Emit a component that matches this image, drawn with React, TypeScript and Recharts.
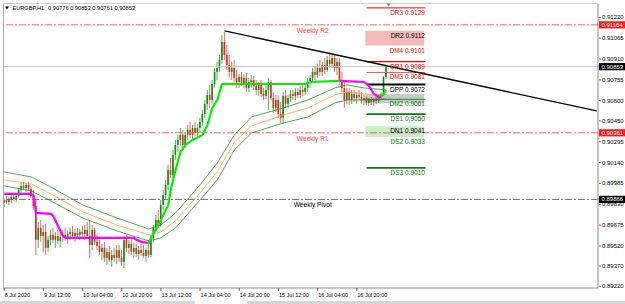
import React from 'react';
import { ComposedChart, Bar, Line, XAxis, YAxis, ReferenceLine, ReferenceArea, ReferenceDot } from 'recharts';

const FONT = '"Liberation Sans", Arial, "DejaVu Sans", sans-serif';
const SLOTS = 243; // bar slots across the chart width (last ones empty: chart shift)

// x axis: bar index of each time label
const xTickIndex = [0, 16, 32, 48, 64, 80, 96, 112, 128, 144];
const xTickLabels = ['8 Jul 2020', '9 Jul 12:00', '10 Jul 04:00', '10 Jul 20:00', '13 Jul 12:00', '14 Jul 04:00', '14 Jul 20:00', '15 Jul 12:00', '16 Jul 04:00', '16 Jul 20:00'];
const yTicks = [0.9122, 0.91065, 0.9091, 0.90755, 0.906, 0.9045, 0.90295, 0.9014, 0.89985, 0.8983, 0.89675, 0.8952, 0.8937, 0.8922];
const yDomain: [number, number] = [0.89207, 0.91319];

// EURGBP H1 candles, [open, high, low, close] in points (1 point = 0.00001)
const candles: number[][] = [
  [89840, 89877, 89810, 89862], [89862, 89892, 89832, 89847], [89847, 89884, 89825, 89869], [89869, 89907, 89840, 89884],
  [89884, 89914, 89855, 89869], [89869, 89907, 89847, 89892], [89892, 89951, 89877, 89936], [89936, 89988, 89914, 89966],
  [89966, 89996, 89936, 89951], [89951, 89988, 89921, 89974], [89974, 89996, 89929, 89944], [89944, 89966, 89877, 89892],
  [89892, 89936, 89788, 89817], [89817, 89862, 89453, 89565], [89565, 89698, 89505, 89654], [89654, 89713, 89550, 89594],
  [89594, 89676, 89475, 89624], [89624, 89684, 89453, 89505], [89505, 89594, 89475, 89565], [89565, 89639, 89527, 89602],
  [89602, 89654, 89542, 89565], [89565, 89624, 89505, 89594], [89594, 89639, 89535, 89557], [89557, 89617, 89513, 89587],
  [89587, 89639, 89550, 89602], [89602, 89654, 89557, 89580], [89580, 89632, 89535, 89609], [89609, 89654, 89565, 89624],
  [89624, 89669, 89580, 89594], [89594, 89646, 89550, 89617], [89617, 89654, 89572, 89602], [89602, 89646, 89565, 89624],
  [89624, 89669, 89580, 89609], [89609, 89676, 89565, 89639], [89639, 89698, 89580, 89594], [89594, 89713, 89431, 89527],
  [89527, 89676, 89490, 89639], [89639, 89654, 89527, 89550], [89550, 89602, 89490, 89520], [89520, 89565, 89453, 89475],
  [89475, 89535, 89416, 89505], [89505, 89550, 89401, 89431], [89431, 89505, 89379, 89475], [89475, 89520, 89401, 89416],
  [89416, 89490, 89364, 89453], [89453, 89505, 89401, 89431], [89431, 89527, 89386, 89490], [89490, 89527, 89401, 89431],
  [89431, 89490, 89371, 89401], [89401, 89594, 89356, 89565], [89565, 89602, 89475, 89505], [89505, 89565, 89460, 89535],
  [89535, 89565, 89453, 89475], [89475, 89542, 89431, 89505], [89505, 89535, 89438, 89460], [89460, 89520, 89416, 89490],
  [89490, 89535, 89446, 89468], [89468, 89527, 89431, 89446], [89446, 89505, 89401, 89490], [89490, 89565, 89431, 89453],
  [89453, 89602, 89438, 89580], [89580, 89676, 89550, 89654], [89654, 89750, 89624, 89713], [89713, 89788, 89654, 89676],
  [89676, 89862, 89661, 89825], [89825, 89936, 89788, 89899], [89899, 90011, 89862, 89974], [89974, 90122, 89936, 90085],
  [90085, 90174, 90026, 90048], [90048, 90234, 90026, 90197], [90197, 90308, 90159, 90271], [90271, 90345, 90219, 90308],
  [90308, 90397, 90264, 90345], [90345, 90383, 90234, 90271], [90271, 90368, 90249, 90345], [90345, 90420, 90308, 90383],
  [90383, 90442, 90323, 90345], [90345, 90420, 90308, 90397], [90397, 90442, 90338, 90360], [90360, 90427, 90323, 90397],
  [90397, 90472, 90360, 90442], [90442, 90531, 90412, 90501], [90501, 90605, 90472, 90576], [90576, 90680, 90531, 90643],
  [90643, 90717, 90546, 90605], [90605, 90754, 90576, 90724], [90724, 90843, 90695, 90814], [90814, 90888, 90754, 90843],
  [90843, 90940, 90814, 90903], [90903, 91089, 90873, 91037], [91037, 91111, 90903, 90940], [90940, 91014, 90829, 90866],
  [90866, 90940, 90769, 90814], [90814, 90888, 90754, 90843], [90843, 90903, 90739, 90769], [90769, 90829, 90695, 90739],
  [90739, 90799, 90695, 90776], [90776, 90814, 90710, 90724], [90724, 90799, 90695, 90769], [90769, 90806, 90665, 90695],
  [90695, 90769, 90665, 90739], [90739, 90791, 90695, 90754], [90754, 90784, 90680, 90710], [90710, 90754, 90643, 90680],
  [90680, 90739, 90635, 90717], [90717, 90754, 90628, 90650], [90650, 90695, 90605, 90635], [90635, 90710, 90613, 90680],
  [90680, 90769, 90531, 90739], [90739, 90754, 90605, 90620], [90620, 90665, 90509, 90546], [90546, 90643, 90516, 90605],
  [90605, 90643, 90472, 90501], [90501, 90591, 90434, 90472], [90472, 90665, 90427, 90635], [90635, 90680, 90546, 90576],
  [90576, 90643, 90546, 90620], [90620, 90680, 90591, 90650], [90650, 90680, 90605, 90635], [90635, 90695, 90605, 90665],
  [90665, 90695, 90620, 90643], [90643, 90710, 90620, 90680], [90680, 90717, 90635, 90665], [90665, 90724, 90643, 90695],
  [90695, 90769, 90665, 90739], [90739, 90791, 90695, 90769], [90769, 90843, 90739, 90814], [90814, 90858, 90754, 90791],
  [90791, 90873, 90769, 90843], [90843, 90903, 90784, 90814], [90814, 90888, 90784, 90866], [90866, 90918, 90799, 90829],
  [90829, 90933, 90814, 90903], [90903, 90962, 90843, 90873], [90873, 90955, 90843, 90918], [90918, 90948, 90814, 90843],
  [90843, 90918, 90791, 90888], [90888, 90918, 90717, 90754], [90754, 90814, 90665, 90695], [90695, 90739, 90546, 90605],
  [90605, 90695, 90576, 90665], [90665, 90695, 90568, 90605], [90605, 90680, 90576, 90650], [90650, 90680, 90591, 90620],
  [90620, 90665, 90576, 90643], [90643, 90680, 90605, 90628], [90628, 90665, 90576, 90605], [90605, 90643, 90568, 90620],
  [90620, 90635, 90568, 90583], [90583, 90620, 90561, 90605], [90605, 90628, 90568, 90591], [90591, 90620, 90561, 90613],
  [90613, 90635, 90576, 90598], [90598, 90643, 90583, 90628], [90628, 90665, 90605, 90650], [90650, 90784, 90635, 90776],
  [90776, 90853, 90761, 90853],
];

// indicator lines, [bar index, points]
const bandUpper = [[0, 90070], [11, 90033], [19, 89959], [32, 89825], [46, 89728], [59, 89646], [64, 89676], [70, 89765], [80, 89974], [87, 90137], [94, 90345], [101, 90479], [114, 90546], [124, 90605], [135, 90695], [140, 90717], [147, 90695], [156, 90680]];
const bandMid = [[0, 90011], [11, 89981], [19, 89907], [32, 89773], [46, 89676], [59, 89602], [64, 89624], [70, 89706], [80, 89914], [87, 90070], [94, 90293], [101, 90412], [114, 90493], [124, 90546], [135, 90643], [140, 90665], [147, 90650], [156, 90643]];
const bandLower = [[0, 89966], [11, 89929], [19, 89855], [32, 89728], [46, 89632], [59, 89557], [64, 89580], [70, 89654], [80, 89862], [87, 90011], [94, 90234], [101, 90360], [114, 90434], [124, 90479], [135, 90583], [140, 90605], [147, 90605], [156, 90613]];
const stopUp = [[59, 89535], [60, 89580], [63, 89676], [65, 89750], [67, 89825], [68, 89936], [70, 90085], [72, 90219], [74, 90271], [77, 90308], [81, 90345], [83, 90420], [85, 90546], [87, 90605], [89, 90724], [123, 90724], [125, 90739], [137, 90747]];
const stopUp2 = [[154, 90628], [155, 90650], [156, 90680]];
const stopDown = [[0, 89907], [11, 89907], [12, 89892], [13, 89765], [19, 89758], [20, 89743], [24, 89594], [25, 89580], [53, 89580], [54, 89565], [56, 89550], [59, 89542]];
const stopDown2 = [[137, 90747], [147, 90739], [149, 90710], [151, 90650], [153, 90628], [154, 90628]];

const trendIndex = [90, 242];
const trendPrice = [0.91119, 0.90524];

const bidPrice = 0.90853;
const weeklyNames = ['Weekly R2', 'Weekly R1', 'Weekly Pivot'];
const weeklyPrices = [0.91164, 0.90361, 0.89866];
const weeklyColors = ['#FF6060', '#FF6060', '#6A6A6A'];
const weeklyBoxColors = ['#FF1A1A', '#FF1A1A', '#000000'];

const dailyNames = ['DR3', 'DR2', 'DM4', 'DR1', 'DM3', 'DPP', 'DM2', 'DS1', 'DN1', 'DS2', 'DS3'];
const dailyPrices = [0.9129, 0.9112, 0.9101, 0.9089, 0.9081, 0.9072, 0.9061, 0.905, 0.9041, 0.9033, 0.901];
const dailyTextColors = ['#F00000', '#000000', '#F00000', '#F00000', '#F00000', '#000000', '#008000', '#008000', '#000000', '#008000', '#008000'];
const dailyLineColors = ['#F00000', 'none', 'none', '#F00000', '#FF5050', '#000000', '#1F8F1F', '#117711', 'none', 'none', '#117711'];
const dailyLineWidths = [1, 0, 0, 1.3, 1, 2, 1, 1.6, 0, 0, 1.6];
const dailyStart = 148;
const dailyEnd = 172;
const zoneLow = [0.9101, 0.90581, 0.9033];
const zoneHigh = [0.9112, 0.9065, 0.9041];
const zoneColors = ['#F6B9B9', '#C9C9C9', '#C8F0C8'];

const rows: any[] = Array.from({ length: SLOTS }, (_, i) => {
  const row: any = { i };
  const c = candles[i];
  if (c) {
    row.o = c[0] / 1e5; row.h = c[1] / 1e5; row.l = c[2] / 1e5; row.c = c[3] / 1e5;
    row.range = [row.l, row.h];
  }
  return row;
});
const addSeries = (key: string, pts: number[][]) => pts.forEach(([i, v]) => { rows[i][key] = v / 1e5; });
addSeries('bu', bandUpper);
addSeries('bm', bandMid);
addSeries('bl', bandLower);
addSeries('su', stopUp);
addSeries('su2', stopUp2);
addSeries('sd', stopDown);
addSeries('sd2', stopDown2);

const Candle = (props: any) => {
  const { x, y, width, height, payload } = props;
  if (!payload || payload.h == null) return null;
  const { o, h, l, c } = payload;
  const top = Math.min(y, y + height);
  const hh = Math.abs(height);
  const span = h - l || 1e-9;
  const yOf = (v: number) => top + ((h - v) / span) * hh;
  const cx = x + width / 2;
  const bull = c >= o;
  const color = bull ? '#138A13' : '#F02020';
  const yo = yOf(o), yc = yOf(c);
  const bt = Math.min(yo, yc);
  const bh = Math.max(Math.abs(yo - yc), 0.8);
  return (
    <g>
      <line x1={cx} x2={cx} y1={top} y2={top + hh} stroke={color} strokeWidth={0.7} />
      <rect x={cx - 0.8} y={bt} width={1.6} height={bh} fill={color} />
    </g>
  );
};

const XTick = (props: any) => {
  const { x, y, payload } = props;
  const k = xTickIndex.indexOf(payload.value);
  if (k < 0) return null;
  return (
    <g>
      <line x1={x} x2={x} y1={y} y2={y + 3} stroke="#000" strokeWidth={0.6} />
      <text x={x + 0.5} y={y + 8.6} fontSize={5.5} fontFamily={FONT} fill="#000">{xTickLabels[k]}</text>
    </g>
  );
};

const YTick = (props: any) => {
  const { x, y, payload } = props;
  return (
    <g>
      <line x1={x + 1} x2={x + 3} y1={y} y2={y} stroke="#000" strokeWidth={0.6} />
      <text x={x + 4} y={y + 2.1} fontSize={6} fontFamily={FONT} fill="#000">{Number(payload.value).toFixed(5)}</text>
    </g>
  );
};

const priceBox = (price: number, bg: string) => (p: any) => {
  const vb = p.viewBox || {};
  const bx = (vb.x || 0) + (vb.width || 0) + 1;
  const by = vb.y || 0;
  return (
    <g>
      <rect x={bx} y={by - 3.6} width={26} height={7.2} fill={bg} />
      <text x={bx + 2.5} y={by + 2.1} fontSize={6} fontFamily={FONT} fill="#fff">{price.toFixed(5)}</text>
    </g>
  );
};

const textShape = (txt: string, color: string, anchor: string, dx: number, dy: number, size: number) => (p: any) => (
  <text x={p.cx + dx} y={p.cy + dy} fontSize={size} fontFamily={FONT} fill={color} textAnchor={anchor as any}>{txt}</text>
);

export default function App() {
  return (
    <div style={{ position: 'absolute', left: 0, top: 0, width: 625, height: 304, background: '#fff', overflow: 'hidden' }}>
      <ComposedChart width={625} height={304} data={rows} margin={{ top: 4, right: 0, bottom: 0, left: 3 }}>
        <XAxis dataKey="i" ticks={xTickIndex} interval={0} tick={<XTick />} tickLine={false} tickSize={0} tickMargin={0} height={16} axisLine={{ stroke: '#8C8C8C' }} />
        <YAxis orientation="right" type="number" domain={yDomain} ticks={yTicks} allowDataOverflow interval={0} tick={<YTick />} tickLine={false} tickSize={0} tickMargin={0} width={27} axisLine={{ stroke: '#8C8C8C' }} />

        {zoneLow.map((lo, k) => (
          <ReferenceArea key={'z' + k} x1={dailyStart} x2={dailyEnd - 1} y1={lo} y2={zoneHigh[k]} fill={zoneColors[k]} fillOpacity={1} stroke="none" />
        ))}

        <ReferenceLine y={bidPrice} stroke="#C4C4C4" strokeWidth={1} label={priceBox(bidPrice, '#000000')} />
        {weeklyPrices.map((p, k) => (
          <ReferenceLine key={'w' + k} y={p} stroke={weeklyColors[k]} strokeWidth={1} strokeDasharray="7 2 2 2" label={priceBox(p, weeklyBoxColors[k])} />
        ))}
        {weeklyPrices.map((p, k) => (
          <ReferenceDot key={'wl' + k} x={126} y={p} r={0} shape={textShape(weeklyNames[k], weeklyColors[k] === '#6A6A6A' ? '#000000' : '#FF4040', 'middle', 0, 7.8, 6.6)} />
        ))}

        {dailyPrices.map((p, k) => (
          dailyLineWidths[k] > 0 ? (
            <ReferenceLine key={'dl' + k} segment={[{ x: dailyStart, y: p }, { x: dailyEnd, y: p }]} stroke={dailyLineColors[k]} strokeWidth={dailyLineWidths[k]} />
          ) : null
        ))}
        {dailyPrices.map((p, k) => (
          <ReferenceDot key={'dt' + k} x={dailyEnd} y={p} r={0} shape={textShape(`${dailyNames[k]} ${p.toFixed(4)}`, dailyTextColors[k], 'end', -0.5, 7, 6.5)} />
        ))}

        <Bar dataKey="range" barSize={2} shape={<Candle />} isAnimationActive={false} />

        <Line dataKey="bu" stroke="#2E8B2E" strokeWidth={0.8} dot={false} connectNulls isAnimationActive={false} />
        <Line dataKey="bm" stroke="#FFA040" strokeWidth={0.8} dot={false} connectNulls isAnimationActive={false} />
        <Line dataKey="bl" stroke="#2E8B2E" strokeWidth={0.8} dot={false} connectNulls isAnimationActive={false} />
        <Line dataKey="sd" stroke="#FF00FF" strokeWidth={2.2} dot={false} connectNulls isAnimationActive={false} />
        <Line dataKey="sd2" stroke="#FF00FF" strokeWidth={2.2} dot={false} connectNulls isAnimationActive={false} />
        <Line dataKey="su" stroke="#00F000" strokeWidth={2.2} dot={false} connectNulls isAnimationActive={false} />
        <Line dataKey="su2" stroke="#00F000" strokeWidth={2.2} dot={false} connectNulls isAnimationActive={false} />

        <ReferenceLine segment={[{ x: trendIndex[0], y: trendPrice[0] }, { x: trendIndex[1], y: trendPrice[1] }]} stroke="#000" strokeWidth={1.3} ifOverflow="visible" />
      </ComposedChart>

      <svg width={625} height={304} style={{ position: 'absolute', left: 0, top: 0, pointerEvents: 'none' }}>
        <line x1={3.5} x2={3.5} y1={3} y2={288} stroke="#A8A8A8" strokeWidth={1} />
        <line x1={3} x2={598} y1={3.5} y2={3.5} stroke="#D0D0D0" strokeWidth={1} />
        <polygon points="5,6.5 9,6.5 7,9.5" fill="#000" />
        <text x={12.5} y={10.3} fontSize={5.6} fontFamily={FONT} fill="#000">EURGBP,H1</text>
        <text x={48} y={10.3} fontSize={5.7} fontFamily={FONT} fill="#000">0.90776 0.90853 0.90761 0.90853</text>
        <polygon points="386.5,3.5 391,3.5 388.75,6.5" fill="#8C8C8C" />
        <rect x={0} y={301} width={625} height={3} fill="#D6D6D6" />
        <rect x={195} y={301} width={52} height={3} fill="#FFFFFF" />
      </svg>
    </div>
  );
}
